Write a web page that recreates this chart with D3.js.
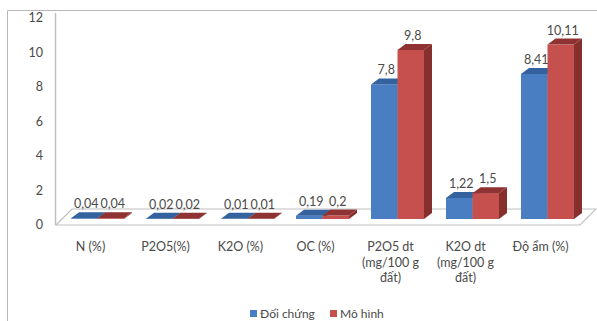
<!DOCTYPE html>
<html>
<head>
<meta charset="utf-8">
<script src="https://cdn.jsdelivr.net/npm/d3@7/dist/d3.min.js"></script>
<style>
  html, body { margin: 0; padding: 0; background: #fff; }
  svg { display: block; font-family: Lato, "Open Sans", sans-serif; }
</style>
</head>
<body>
<svg id="chart" width="597" height="321"></svg>
<script>
// Soil indicators: control plot vs. model plot
const categories = [
  ["N (%)"],
  ["P2O5(%)"],
  ["K2O (%)"],
  ["OC (%)"],
  ["P2O5 dt", "(mg/100 g", "đất)"],
  ["K2O dt", "(mg/100 g", "đất)"],
  ["Độ ẩm (%)"]
];
const seriesNames = ["Đối chứng", "Mô hình"];
const doiChung = [0.04, 0.02, 0.01, 0.19, 7.8, 1.22, 8.41];
const moHinh   = [0.04, 0.02, 0.01, 0.2, 9.8, 1.5, 10.11];
const yTicks = [0, 2, 4, 6, 8, 10, 12];

const seriesValues = [doiChung, moHinh];
const colors = [
  { front: "#4A7EC2", top: "#33629F", side: "#2F5A91" },
  { front: "#C6504D", top: "#8E3331", side: "#86302E" }
];

const svg = d3.select("#chart");
const gridColor = "#BFBFBF";
const textColor = "#4A4A4A";

// outer frame (top and left edges)
svg.append("path")
  .attr("d", "M7.5,321 V10.5 H597")
  .attr("fill", "none").attr("stroke", "#B8B8B8").attr("stroke-width", 1);

// value axis along the back wall
const yAxisScale = d3.scaleLinear().domain([0, 12]).range([225, 18]);
// bars stand partway into the floor depth
const depthShift = 6;
const yBar = d3.scaleLinear().domain([0, 12]).range([225 - depthShift, 18 - depthShift]);

const x = d3.scaleBand().domain(d3.range(categories.length)).range([53, 578]).padding(0);
const xInner = d3.scaleBand().domain(d3.range(seriesNames.length)).range([18, 71]).padding(0);
const dx = 8, dy = 6;

// axis line
svg.append("line")
  .attr("x1", 55.5).attr("x2", 55.5).attr("y1", 13).attr("y2", yAxisScale(0))
  .attr("stroke", gridColor).attr("stroke-width", 1.5);

// floor
const floorFront = yAxisScale(0), floorBack = yAxisScale(0) - 16;
svg.append("path")
  .attr("d", `M56,${floorFront} L72,${floorBack} L596,${floorBack} L580,${floorFront} Z`)
  .attr("fill", "none").attr("stroke", gridColor).attr("stroke-width", 1.2);

// y tick labels
svg.append("g").selectAll("text").data(yTicks).join("text")
  .attr("x", 43).attr("y", d => yAxisScale(d)).attr("dy", "0.35em")
  .attr("text-anchor", "end").attr("font-size", 12.5).attr("fill", textColor)
  .text(d => d);

// bars
const bars = [];
seriesValues.forEach((vals, s) => {
  vals.forEach((v, i) => bars.push({ s, i, v }));
});
bars.sort((a, b) => a.i - b.i || a.s - b.s);

const gBars = svg.append("g");
bars.forEach(b => {
  const x0 = x(b.i) + xInner(b.s);
  const w = xInner.bandwidth();
  const yt = yBar(b.v), yb = yBar(0);
  const c = colors[b.s];
  const g = gBars.append("g");
  g.append("rect").attr("x", x0).attr("y", yt).attr("width", w).attr("height", yb - yt)
    .attr("fill", c.front);
  g.append("polygon")
    .attr("points", [[x0 + w, yt], [x0 + w + dx, yt - dy], [x0 + w + dx, yb - dy], [x0 + w, yb]].join(" "))
    .attr("fill", c.side);
  g.append("polygon")
    .attr("points", [[x0, yt], [x0 + dx, yt - dy], [x0 + w + dx, yt - dy], [x0 + w, yt]].join(" "))
    .attr("fill", c.top);
});

// value labels
const fmt = v => String(v).replace(".", ",");
svg.append("g").selectAll("text").data(bars).join("text")
  .attr("x", d => x(d.i) + xInner(d.s) + xInner.bandwidth() / 2 + 2)
  .attr("y", d => yBar(d.v) - dy - 4)
  .attr("text-anchor", "middle").attr("font-size", 12.5).attr("fill", textColor)
  .text(d => fmt(d.v));

// category labels
const gCat = svg.append("g");
categories.forEach((lines, i) => {
  const t = gCat.append("text")
    .attr("x", x(i) + x.bandwidth() / 2 + 0)
    .attr("y", 251)
    .attr("text-anchor", "middle").attr("font-size", 12.5).attr("fill", textColor);
  lines.forEach((ln, k) => {
    t.append("tspan").attr("x", x(i) + x.bandwidth() / 2).attr("dy", k === 0 ? 0 : 15.5).text(ln);
  });
});

// legend
const legendX = [250, 330];
const gLeg = svg.append("g");
seriesNames.forEach((name, s) => {
  gLeg.append("rect").attr("x", legendX[s]).attr("y", 310).attr("width", 7).attr("height", 7)
    .attr("fill", colors[s].front);
  gLeg.append("text").attr("x", legendX[s] + 10).attr("y", 318)
    .attr("font-size", 12).attr("fill", textColor).text(name);
});
</script>
</body>
</html>
